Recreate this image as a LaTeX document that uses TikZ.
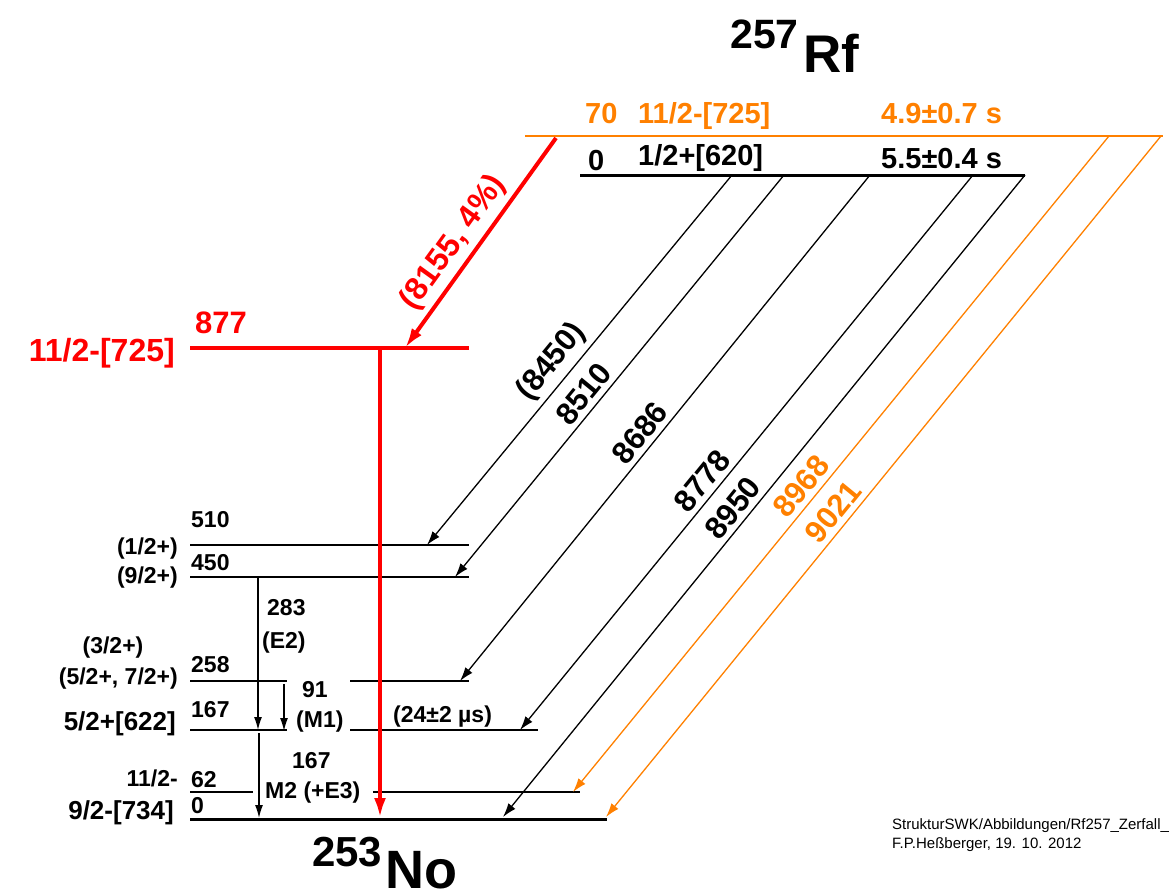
\documentclass[tikz,border=0pt]{standalone}
\usepackage{fontspec}
\setmainfont{Liberation Sans}
\usepackage{xcolor}
\usepackage{tikz}
\usetikzlibrary{arrows.meta}

\definecolor{isoorange}{RGB}{255,128,0}
\definecolor{decayred}{RGB}{255,0,0}

\begin{document}
\begin{tikzpicture}[
  x=1pt, y=-1pt,
  every node/.style={inner sep=0pt, font=\bfseries},
  lvl/.style={line width=1.2pt},
  gslvl/.style={line width=3pt},
  alpha/.style={-{Latex[length=14pt,width=9pt]}, line width=1.3pt},
  gam/.style={-{Latex[length=13pt,width=8pt]}, line width=1.3pt},
  redarrow/.style={-{Latex[length=20pt,width=12pt]}, line width=4pt, draw=decayred},
  elbl/.style={anchor=base west, font=\fontsize{23}{26}\selectfont\bfseries},
  spinlbl/.style={anchor=base east, font=\fontsize{23}{26}\selectfont\bfseries},
  bigspin/.style={anchor=base east, font=\fontsize{26}{29}\selectfont\bfseries},
  biglbl/.style={anchor=base west, font=\fontsize{29}{32}\selectfont\bfseries},
  albl/.style={sloped, above=5pt, font=\fontsize{31}{34}\selectfont\bfseries},
]
\useasboundingbox (0,0) rectangle (1173,894);

% nuclei
\node[anchor=base west] (rf) at (730,72) {\raisebox{24pt}{\fontsize{41}{44}\selectfont 257}\kern5pt\fontsize{53}{56}\selectfont Rf};
\node[anchor=base west] (no) at (312,888) {\raisebox{22pt}{\fontsize{42}{45}\selectfont 253}\kern3pt\fontsize{54}{57}\selectfont No};

% levels of 257Rf
\draw[isoorange, line width=2.5pt] (525,136) -- (1163,136);
\draw[gslvl] (580,175) -- (1025,175);

\node[biglbl, isoorange] (en70) at (585,123) {70};
\node[biglbl, isoorange] (sp70) at (638,123) {11/2-[725]};
\node[biglbl, isoorange] (t70) at (881,123) {4.9±0.7 s};
\node[biglbl] (en0) at (588,170) {0};
\node[biglbl] (sp0) at (638,165) {1/2+[620]};
\node[biglbl] (t0) at (881,168) {5.5±0.4 s};

% levels of 253No
\draw[decayred, line width=4.5pt] (190,348) -- (469,348);
\draw[lvl] (190,545) -- (469,545);
\draw[lvl] (190,577) -- (469,577);
\draw[lvl] (190,681) -- (287,681) (350,681) -- (469,681);
\draw[lvl] (190,730) -- (287,730) (350,730) -- (538,730);
\draw[lvl] (190,792) -- (253,792) (373,792) -- (580,792);
\draw[gslvl] (190,819) -- (607,819);

\node[biglbl, decayred, font=\fontsize{31}{34}\selectfont\bfseries] (en877) at (195,333) {877};
\node[bigspin, decayred, font=\fontsize{32}{35}\selectfont\bfseries] (sp877) at (175,361) {11/2-[725]};

\node[elbl] (en510) at (191,527) {510};
\node[elbl] (en450) at (191,570) {450};
\node[elbl] (en258) at (191,672) {258};
\node[elbl] (en167) at (191,717) {167};
\node[elbl] (en62) at (191,787) {62};
\node[elbl] (en00) at (191,813) {0};

\node[spinlbl] (sp510) at (178,554) {(1/2+)};
\node[spinlbl] (sp450) at (178,583) {(9/2+)};
\node[anchor=base, font=\fontsize{23}{26}\selectfont\bfseries] (sp258a) at (113,653) {(3/2+)};
\node[spinlbl] (sp258b) at (178,684) {(5/2+, 7/2+)};
\node[bigspin] (sp167) at (176,730) {5/2+[622]};
\node[spinlbl] (sp62) at (178,786) {11/2-};
\node[bigspin] (sp00) at (174,819) {9/2-[734]};

% alpha decays
\coordinate (s8155) at (556,138);
\coordinate (e8155) at (405,348);
\coordinate (s8450) at (732,175);
\coordinate (e8450) at (427,545);
\coordinate (s8510) at (784,175);
\coordinate (e8510) at (455,577);
\coordinate (s8686) at (870,175);
\coordinate (e8686) at (460,681);
\coordinate (s8778) at (973,175);
\coordinate (e8778) at (520,730);
\coordinate (s8950) at (1025,175);
\coordinate (e8950) at (503,817);
\coordinate (s8968) at (1109,136);
\coordinate (e8968) at (573,792);
\coordinate (s9021) at (1161,136);
\coordinate (e9021) at (606,817);

\draw[alpha] (s8450) -- node[albl, pos=.54] (l8450) {(8450)} (e8450);
\draw[alpha] (s8510) -- node[albl, pos=.57] (l8510) {8510} (e8510);
\draw[alpha] (s8686) -- node[albl, pos=.53] (l8686) {8686} (e8686);
\draw[alpha] (s8778) -- node[albl, pos=.57] (l8778) {8778} (e8778);
\draw[alpha] (s8950) -- node[albl, pos=.535] (l8950) {8950} (e8950);
\draw[alpha, isoorange] (s8968) -- node[albl, pos=.55] (l8968) {8968} (e8968);
\draw[alpha, isoorange] (s9021) -- node[albl, pos=.567] (l9021) {9021} (e9021);
\draw[redarrow] (s8155) -- node[albl, decayred, pos=.56, font=\fontsize{32}{35}\selectfont\bfseries] (l8155) {(8155, 4\%)} (e8155);

% gamma transitions
\coordinate (s877) at (380,350);
\coordinate (e877) at (380,818);
\draw[redarrow] (s877) -- (e877);

\coordinate (g283s) at (258,577);
\coordinate (g283e) at (258,730);
\coordinate (g91s) at (284,684);
\coordinate (g91e) at (284,731);
\coordinate (g167s) at (259,733);
\coordinate (g167e) at (259,818);
\draw[gam] (g283s) -- (g283e);
\draw[gam] (g91s) -- (g91e);
\draw[gam] (g167s) -- (g167e);

\node[elbl] (l283) at (267,615) {283};
\node[elbl] (l283m) at (262,648) {(E2)};
\node[elbl] (l91) at (302,697) {91};
\node[elbl] (l91m) at (296,727) {(M1)};
\node[elbl] (l167) at (292,768) {167};
\node[elbl] (l167m) at (265,798) {M2 (+E3)};
\node[elbl] (lt167) at (393,722) {(24±2 µs)};

% footer
\node[anchor=base west, font=\fontsize{15}{18}\selectfont] (path) at (892,829) {StrukturSWK/Abbildungen/Rf257\_Zerfall\_};
\node[anchor=base west, font=\fontsize{15}{18}\selectfont] (auth) at (892,848) {F.P.Heßberger, 19. 10. 2012};

\end{tikzpicture}
\end{document}
